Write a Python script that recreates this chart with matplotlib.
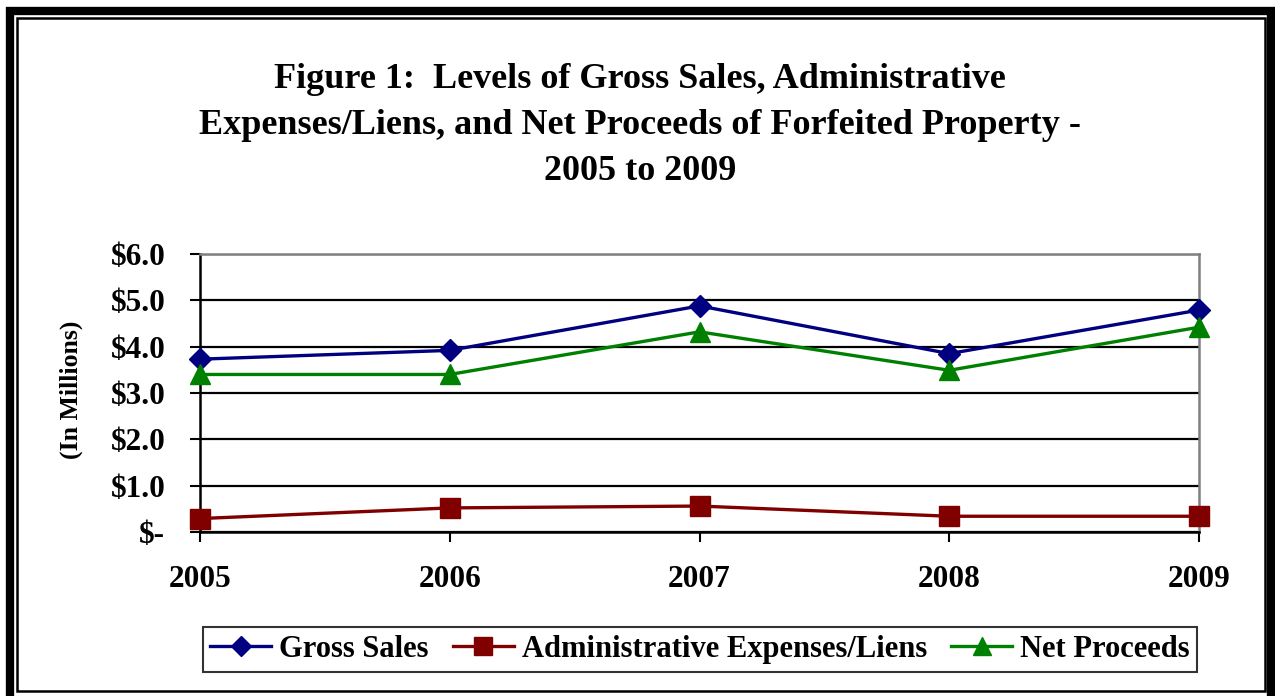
import matplotlib
matplotlib.use("Agg")
import matplotlib.pyplot as plt
from matplotlib.patches import Rectangle

years = ["2005", "2006", "2007", "2008", "2009"]
gross_sales = [3.73, 3.92, 4.88, 3.85, 4.79]
admin_expenses = [0.29, 0.52, 0.56, 0.34, 0.34]
net_proceeds = [3.40, 3.40, 4.32, 3.49, 4.42]
y_ticks = [0, 1, 2, 3, 4, 5, 6]
y_tick_labels = ["$-", "$1.0", "$2.0", "$3.0", "$4.0", "$5.0", "$6.0"]
series_names = ["Gross Sales", "Administrative Expenses/Liens", "Net Proceeds"]
title = ("Figure 1:  Levels of Gross Sales, Administrative\n"
         "Expenses/Liens, and Net Proceeds of Forfeited Property -\n"
         "2005 to 2009")

W, H = 1275, 696
plt.rcParams['font.family'] = ['Liberation Serif', 'DejaVu Serif']
fig = plt.figure(figsize=(W / 100, H / 100), dpi=100)

def px_rect(x0, y0, x1, y1, lw, color="black"):
    r = Rectangle((x0 / W, 1 - y1 / H), (x1 - x0) / W, (y1 - y0) / H,
                  transform=fig.transFigure, fill=False, lw=lw, ec=color)
    fig.add_artist(r)

# outer thick border
px_rect(10, 11, 1271, 700, 6)
# inner thin border
px_rect(17, 18, 1265, 691, 1.8)

ax = fig.add_axes([200 / W, 1 - 532 / H, (1199 - 200) / W, (532 - 254) / H])
x = list(range(len(years)))

navy, darkred, green = "#000080", "#800000", "#008000"
ax.plot(x, gross_sales, color=navy, lw=2.4, marker="D", ms=11, label=series_names[0], zorder=4, clip_on=False)
ax.plot(x, admin_expenses, color=darkred, lw=2.4, marker="s", ms=15, label=series_names[1], zorder=4, clip_on=False)
ax.plot(x, net_proceeds, color=green, lw=2.4, marker="^", ms=15, label=series_names[2], zorder=4, clip_on=False)

ax.set_xlim(0, len(years) - 1)
ax.set_ylim(0, 6)
ax.set_xticks(x)
ax.set_xticklabels(years, fontsize=22.5, fontweight="bold")
ax.set_yticks(y_ticks)
ax.set_yticklabels(y_tick_labels, fontsize=22.5, fontweight="bold")
ax.tick_params(axis="both", direction="out", length=7, width=1.5, color="black")
ax.tick_params(axis="x", pad=17)
ax.tick_params(axis="y", pad=18)
ax.yaxis.grid(True, color="black", lw=1.6)
ax.set_axisbelow(True)
for s in ["left", "bottom"]:
    ax.spines[s].set_color("black")
    ax.spines[s].set_linewidth(1.8)
for s in ["top", "right"]:
    ax.spines[s].set_color("#808080")
    ax.spines[s].set_linewidth(1.8)

fig.text(71 / W, 1 - 390 / H, "(In Millions)", rotation=90, ha="center", va="center",
         fontsize=18.5, fontweight="bold")

fig.text(640 / W, 1 - 125 / H, title, ha="center", va="center", fontsize=26,
         fontweight="bold", linespacing=1.52)

leg = fig.legend(loc="center", bbox_to_anchor=(700 / W, 1 - 649.5 / H), ncol=3,
                 prop={"weight": "bold", "size": 22}, frameon=True, fancybox=False,
                 edgecolor="black", handlelength=2.0, columnspacing=0.8,
                 handletextpad=0.25, borderpad=0.25, markerscale=0.9)
leg.get_frame().set_linewidth(1.5)

fig.savefig("out.png", dpi=100)
